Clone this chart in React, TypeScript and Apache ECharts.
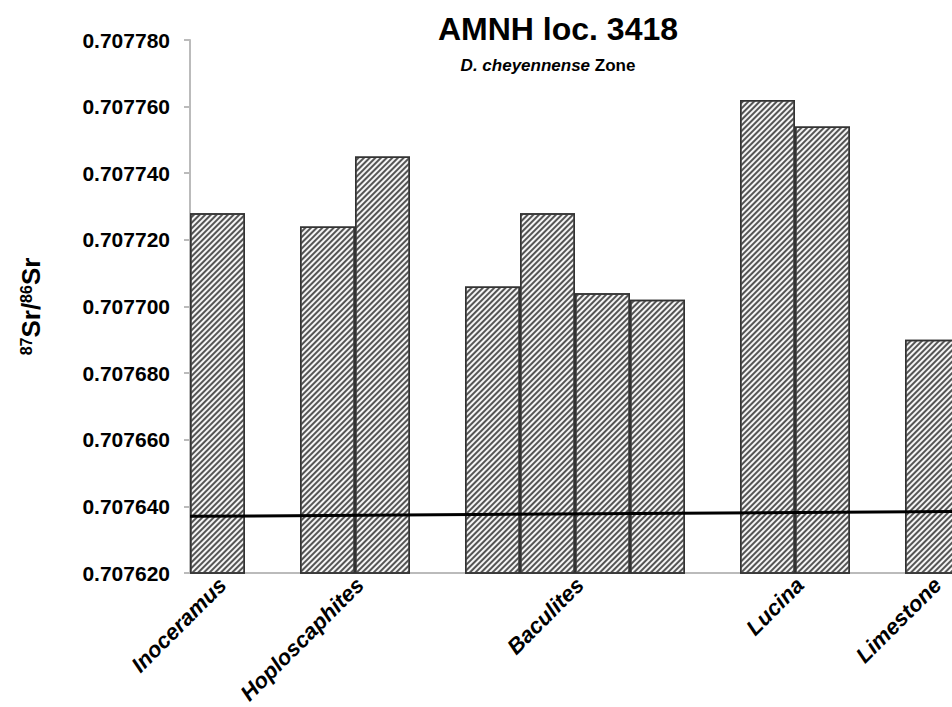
import React, { useEffect, useRef } from "react";
import * as echarts from "echarts";

const groupNames = ["Inoceramus", "Hoploscaphites", "Baculites", "Lucina", "Limestone"];
const inoceramus = [0.707728];
const hoploscaphites = [0.707724, 0.707745];
const baculites = [0.707706, 0.707728, 0.707704, 0.707702];
const lucina = [0.707762, 0.707754];
const limestone = [0.70769];
const seawaterLine = [0.707637, 0.7076385];
const yMin = 0.70762;
const yMax = 0.70778;
const yStep = 0.00002;

const groups = [inoceramus, hoploscaphites, baculites, lucina, limestone];

function buildSlots() {
  const slots: (number | string)[] = [];
  const labelPos: Record<number, string> = {};
  groups.forEach((g, i) => {
    const start = slots.length;
    g.forEach((v) => slots.push(v));
    labelPos[2 * start + g.length] = groupNames[i];
    if (i < groups.length - 1) slots.push("-");
  });
  const labelAxis: string[] = [];
  for (let k = 0; k <= 2 * slots.length; k++) labelAxis.push(labelPos[k] || "");
  return { slots, labelAxis };
}

const FONT = "Liberation Sans, Arial, sans-serif";

export default function App() {
  const ref = useRef<HTMLDivElement>(null);
  useEffect(() => {
    if (!ref.current) return;
    const chart = echarts.init(ref.current, null, { renderer: "svg" });
    const { slots, labelAxis } = buildSlots();
    const slotNames = slots.map((_, i) => "s" + i);
    chart.setOption({
      animation: false,
      backgroundColor: "#ffffff",
      title: [
        {
          text: "AMNH loc. 3418",
          left: 553,
          top: 8,
          textAlign: "center",
          textStyle: { fontFamily: FONT, fontSize: 32, fontWeight: "bold", color: "#000" },
        },
        {
          text: "{i|D. cheyennense} Zone",
          left: 543,
          top: 52,
          textAlign: "center",
          textStyle: {
            fontFamily: FONT,
            fontSize: 17,
            fontWeight: "bold",
            color: "#000",
            rich: { i: { fontFamily: FONT, fontSize: 17, fontWeight: "bold", fontStyle: "italic", color: "#000" } },
          },
        },
      ],
      grid: [
        { left: 190, top: 40, width: 770, height: 533 },
        { left: 195, top: 40, width: 770, height: 533 },
      ],
      xAxis: [
        {
          type: "category",
          gridIndex: 0,
          data: slotNames,
          boundaryGap: true,
          axisLine: { show: true, lineStyle: { color: "#bbbbbb", width: 2 } },
          axisTick: { show: false },
          axisLabel: { show: false },
          splitLine: { show: false },
        },
        {
          type: "value",
          gridIndex: 0,
          min: 0,
          max: 1,
          show: false,
          position: "bottom",
        },
        {
          type: "category",
          gridIndex: 1,
          data: labelAxis,
          boundaryGap: false,
          position: "bottom",
          axisLine: { show: false },
          axisTick: { show: false },
          splitLine: { show: false },
          axisLabel: {
            interval: 0,
            rotate: 45,
            margin: 24,
            fontFamily: FONT,
            fontSize: 22,
            fontWeight: "bold",
            fontStyle: "italic",
            color: "#000",
          },
        },
      ],
      yAxis: [
        {
          type: "value",
          gridIndex: 0,
          min: yMin,
          max: yMax,
          interval: yStep,
          axisLine: { show: true, lineStyle: { color: "#bbbbbb", width: 2 } },
          axisTick: { show: true, inside: false, length: 6, lineStyle: { color: "#bbbbbb", width: 2 } },
          splitLine: { show: false },
          axisLabel: {
            margin: 20,
            fontFamily: FONT,
            fontSize: 21,
            fontWeight: "bold",
            color: "#000",
            formatter: (v: number) => v.toFixed(6),
          },
          name: "{sup|87}{b|Sr/}{sup|86}{b|Sr}",
          nameLocation: "middle",
          nameRotate: 90,
          nameGap: 146,
          nameTextStyle: {
            color: "#000",
            rich: {
              sup: { fontFamily: FONT, fontSize: 16, fontWeight: "bold", color: "#000", verticalAlign: "top" },
              b: { fontFamily: FONT, fontSize: 26, fontWeight: "bold", color: "#000" },
            },
          },
        },
        {
          type: "value",
          gridIndex: 1,
          show: false,
          min: 0,
          max: 1,
        },
      ],
      series: [
        {
          type: "bar",
          xAxisIndex: 0,
          yAxisIndex: 0,
          data: slots,
          barCategoryGap: "0%",
          barWidth: "100%",
          itemStyle: {
            color: "#f5f5f5",
            borderColor: "#333333",
            borderWidth: 1.5,
            decal: {
              symbol: "rect",
              symbolSize: 1,
              dashArrayX: [[1, 0]],
              dashArrayY: [1.1, 1.9],
              rotation: -Math.PI / 4,
              color: "#555555",
            },
          },
        },
        {
          type: "line",
          xAxisIndex: 1,
          yAxisIndex: 0,
          data: [
            [0, seawaterLine[0]],
            [1, seawaterLine[1]],
          ],
          symbol: "none",
          lineStyle: { color: "#000", width: 3 },
          z: 5,
        },
      ],
    });
    return () => chart.dispose();
  }, []);
  return (
    <div style={{ position: "fixed", left: 0, top: 0, width: 952, height: 707, overflow: "hidden", background: "#fff" }}>
      <div ref={ref} style={{ width: 972, height: 707 }} />
    </div>
  );
}
